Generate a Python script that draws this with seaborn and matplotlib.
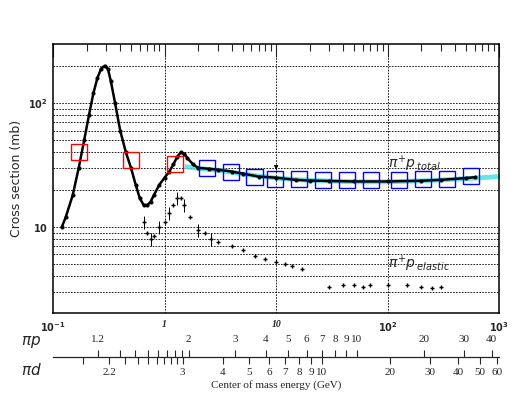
import numpy as np
import matplotlib
matplotlib.use("Agg")
import matplotlib.pyplot as plt
import seaborn as sns
from matplotlib.patches import Rectangle
from matplotlib.ticker import FixedLocator, NullFormatter, NullLocator

sns.set_style("white")
plt.rcParams['font.family'] = ['Liberation Serif', 'DejaVu Serif']

# total cross section, p_lab (GeV/c) vs sigma (mb)
p_tot = [0.12, 0.13, 0.15, 0.17, 0.19, 0.21, 0.23, 0.25, 0.27, 0.29, 0.31, 0.33, 0.36,
         0.40, 0.45, 0.50, 0.55, 0.60, 0.65, 0.70, 0.75, 0.80, 0.90, 1.0, 1.1, 1.2, 1.3,
         1.4, 1.5, 1.6, 1.8, 2.0, 2.5, 3.0, 4.0, 5.0, 7.0, 10, 15, 20, 30, 50, 100, 200,
         300, 500, 600]
s_tot = [10, 12, 18, 30, 50, 80, 120, 160, 190, 200, 190, 150, 100,
         60, 40, 30, 22, 17, 15, 15, 16, 18, 22, 25, 28, 32, 37,
         40, 39, 36, 32, 30, 29.5, 29, 28, 27, 25.5, 25, 24, 23.7, 23.5, 23.3, 23.3, 23.6,
         24, 24.8, 25.2]
# fit band
p_fit = [1.5, 2, 3, 5, 10, 20, 50, 100, 200, 500, 1000]
s_fit = [31, 30, 29, 27, 25, 24, 23.4, 23.4, 23.8, 24.8, 25.8]
# elastic cross section
p_el = [0.65, 0.7, 0.75, 0.8, 0.9, 1.0, 1.1, 1.2, 1.3, 1.4, 1.5, 1.7, 2.0, 2.3, 2.6, 3.0,
        4.0, 5.0, 6.5, 8, 10, 12, 14, 17, 30, 40, 50, 60, 70, 100, 150, 200, 250, 300]
s_el = [11, 9, 8, 8.5, 10, 11, 13, 15, 17, 17, 15, 12, 9.5, 9, 8, 7.5,
        7, 6.5, 5.8, 5.5, 5.2, 5, 4.8, 4.6, 3.3, 3.4, 3.4, 3.3, 3.4, 3.4, 3.4, 3.3, 3.2, 3.3]
# highlighted boxes
p_red = [0.17, 0.5, 1.24]
s_red = [40, 34.6, 32]
p_blue = [2.4, 3.95, 6.4, 9.8, 16, 26.5, 43, 71, 127, 209, 340, 560]
s_blue = [30, 27.8, 25.3, 24.4, 24.2, 24.1, 24.0, 24.0, 24.1, 24.2, 24.4, 25.7]

# sqrt(s) scale labels
pip_ticks = [1.2, 1.3, 1.4, 1.5, 1.6, 1.7, 1.8, 1.9, 2, 3, 4, 5, 6, 7, 8, 9, 10, 20, 30, 40]
pip_labels = ['1.2', '2', '3', '4', '5', '6', '7', '8', '9', '10', '20', '30', '40']
pid_ticks = [2.1, 2.2, 2.3, 2.4, 2.5, 2.6, 2.7, 2.8, 2.9, 3, 4, 5, 6, 7, 8, 9, 10,
             20, 30, 40, 50, 60]
pid_labels = ['2.2', '3', '4', '5', '6', '7', '8', '9', '10', '20', '30', '40', '50', '60']

M_P, M_PI, M_D = 0.938, 0.1396, 1.8756


def plab(w, M):
    w = np.asarray(w, float)
    e = (w**2 - M**2 - M_PI**2) / (2 * M)
    return np.sqrt(e**2 - M_PI**2)


def box(ax, p, s, color):
    wx, wy = 10 ** 0.072, 10 ** 0.065
    ax.add_patch(Rectangle((p / wx, s / wy), p * wx - p / wx, s * wy - s / wy,
                           fill=False, ec=color, lw=1, zorder=4))


fig = plt.figure(figsize=(5.25, 4.08), dpi=100)
ax = fig.add_axes([0.101, 0.233, 0.85, 0.659])
ax.set_xscale('log')
ax.set_yscale('log')
ax.set_xlim(0.1, 1000)
ax.set_ylim(2.02, 300)

for v in [2, 3, 4, 5, 6, 7, 8, 9, 10, 20, 30, 40, 50, 60, 70, 80, 90, 100, 200]:
    ax.axhline(v, color='black', ls=(0, (2, 1.5)), lw=0.6, zorder=0)
for v in [1, 10, 100]:
    ax.axvline(v, color='black', ls=(0, (2, 1.5)), lw=0.6, zorder=0)

ax.fill_between(p_fit, np.array(s_fit) * 0.955, np.array(s_fit) * 1.045,
                color='#40e0e0', alpha=0.8, lw=0, zorder=1)
sns.lineplot(x=p_tot, y=s_tot, ax=ax, color='black', lw=1.8, marker='o', ms=2.2,
             mec='black', sort=False, zorder=3)
sns.scatterplot(x=p_el, y=s_el, ax=ax, color='black', s=6, marker='+', linewidth=1, zorder=3)
ax.errorbar(p_el[:16:2], s_el[:16:2], yerr=np.array(s_el[:16:2]) * 0.12, fmt='none',
            ecolor='black', lw=0.7, zorder=3)

for p, s in zip(p_red, s_red):
    box(ax, p, s, 'red')
for p, s in zip(p_blue, s_blue):
    box(ax, p, s, 'blue')

ax.text(100, 30, r'$\pi^{+}p_{\;total}$', fontsize=10, style='italic')
ax.text(100, 4.6, r'$\pi^{+}p_{\;elastic}$', fontsize=10, style='italic')
ax.annotate('', xy=(10, 27.5), xytext=(10, 31.5),
            arrowprops=dict(arrowstyle='-|>', lw=0.6, color='black', mutation_scale=6))

ax.xaxis.set_major_locator(FixedLocator([0.1, 1, 10, 100, 1000]))
ax.set_xticklabels([r'$\mathbf{10^{-1}}$', '1', '10', r'$\mathbf{10^{2}}$', r'$\mathbf{10^{3}}$'],
                   fontsize=7, style='italic', weight='bold')
ax.yaxis.set_major_locator(FixedLocator([10, 100]))
ax.set_yticklabels([r'$\mathbf{10}$', r'$\mathbf{10^{2}}$'], fontsize=7, style='italic')
ax.yaxis.set_minor_formatter(NullFormatter())
ax.tick_params(which='both', direction='in', top=True, right=False)
ax.tick_params(which='major', length=9, width=0.8)
ax.tick_params(which='minor', length=5, width=0.8)
ax.tick_params(axis='x', pad=5)
for sp in ax.spines.values():
    sp.set_linewidth(1.1)
    sp.set_color('black')
ax.set_ylabel('Cross section (mb)', fontsize=9, family='DejaVu Sans')

# sqrt(s) axes
ybase = 51 / 408
axp = fig.add_axes([0.101, ybase, 0.85, 0.0001])
axp.set_xscale('log')
axp.set_xlim(0.1, 1000)
axp.set_yticks([])
for k in ['left', 'right', 'bottom']:
    axp.spines[k].set_visible(False)
axp.spines['top'].set_linewidth(0.9)
axp.xaxis.set_ticks_position('top')
axp.xaxis.set_minor_locator(NullLocator())
axp.set_xticks(plab(pip_ticks, M_P))
axp.set_xticklabels([('%g' % t) if ('%g' % t) in pip_labels else '' for t in pip_ticks],
                    fontsize=8)
axp.tick_params(axis='x', direction='out', length=5, width=0.8, pad=4)

axd = fig.add_axes([0.101, ybase, 0.85, 0.0001])
axd.set_xscale('log')
axd.set_xlim(0.1, 1000)
axd.set_yticks([])
axd.patch.set_visible(False)
for k in ['left', 'right', 'top', 'bottom']:
    axd.spines[k].set_visible(False)
axd.xaxis.set_ticks_position('bottom')
axd.xaxis.set_minor_locator(NullLocator())
axd.set_xticks(plab(pid_ticks, M_D))
axd.set_xticklabels([('%g' % t) if ('%g' % t) in pid_labels else '' for t in pid_ticks],
                    fontsize=8)
axd.tick_params(axis='x', direction='out', length=5, width=0.8, pad=3)
axd.set_xlabel('Center of mass energy (GeV)', fontsize=8, labelpad=2)

fig.text(0.04, (408 - 342) / 408, r'$\pi p$', fontsize=11, va='center')
fig.text(0.04, (408 - 370) / 408, r'$\pi d$', fontsize=11, va='center')

fig.savefig('out.png', dpi=100)
